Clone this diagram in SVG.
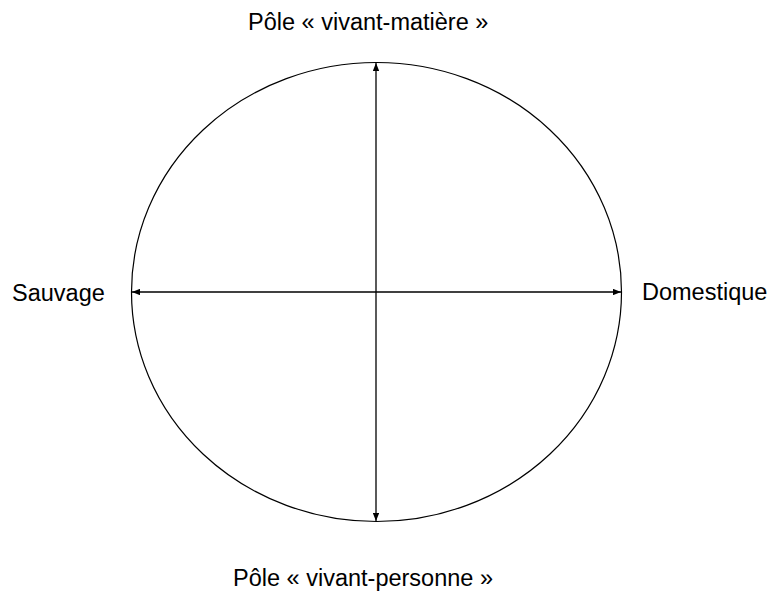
<svg xmlns="http://www.w3.org/2000/svg" width="770" height="595" viewBox="0 0 770 595">
<style>
.lbl{font-family:"Liberation Sans",Arial,sans-serif;font-size:23.5px;fill:#000}
.ax{stroke:#000;stroke-width:1.3;fill:none}
</style>
<defs>
<marker id="ah" viewBox="0 0 10 8" refX="10" refY="4" markerWidth="8" markerHeight="6.4" markerUnits="userSpaceOnUse" orient="auto-start-reverse">
<path d="M0,0 L10,4 L0,8 z" fill="#000"/>
</marker>
</defs>
<rect width="770" height="595" fill="#fff"/>
<g id="cercle">
<ellipse cx="376.5" cy="292" rx="245" ry="229.5" fill="none" stroke="#000" stroke-width="1.2"/>
</g>
<g id="connecteurs">
<line class="ax" x1="376" y1="521" x2="376" y2="63" marker-start="url(#ah)" marker-end="url(#ah)"/>
<line class="ax" x1="132" y1="292" x2="621" y2="292" marker-start="url(#ah)" marker-end="url(#ah)"/>
</g>
<g id="pole-matiere"><text class="lbl" x="248" y="30">Pôle « vivant-matière »</text></g>
<g id="pole-personne"><text class="lbl" x="233" y="586">Pôle « vivant-personne »</text></g>
<g id="sauvage"><text class="lbl" x="12" y="301">Sauvage</text></g>
<g id="domestique"><text class="lbl" x="642" y="300">Domestique</text></g>
</svg>
